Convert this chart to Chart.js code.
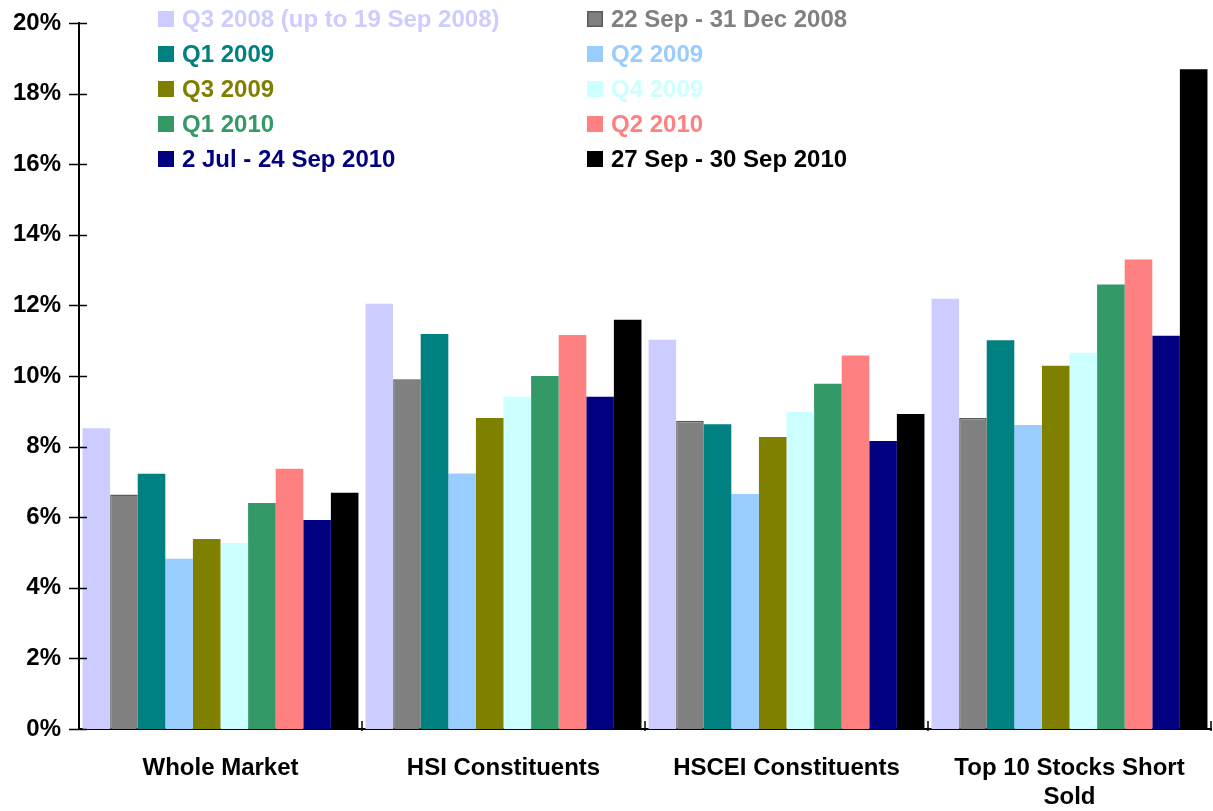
<!DOCTYPE html>
<html>
<head>
<meta charset="utf-8">
<script src="https://cdn.jsdelivr.net/npm/chart.js@4/dist/chart.umd.min.js"></script>
<style>
  html, body { margin: 0; padding: 0; background: #fff; }
  #wrap { position: relative; width: 1213px; height: 811px; }
</style>
</head>
<body>
<div id="wrap"><canvas id="chart"></canvas></div>
<script>
// categories along the x axis
const categories = ["Whole Market", "HSI Constituents", "HSCEI Constituents", ["Top 10 Stocks Short", "Sold"]];

// series names
const seriesNames = [
  "Q3 2008 (up to 19 Sep 2008)", "22 Sep - 31 Dec 2008",
  "Q1 2009", "Q2 2009",
  "Q3 2009", "Q4 2009",
  "Q1 2010", "Q2 2010",
  "2 Jul - 24 Sep 2010", "27 Sep - 30 Sep 2010"
];

// values (%) per series, one per category
const q3_2008   = [8.52, 12.05, 11.03, 12.19];
const sep_dec08 = [6.64, 9.91, 8.73, 8.81];
const q1_2009   = [7.23, 11.19, 8.63, 11.01];
const q2_2009   = [4.82, 7.24, 6.66, 8.61];
const q3_2009   = [5.38, 8.81, 8.27, 10.29];
const q4_2009   = [5.27, 9.41, 8.99, 10.66];
const q1_2010   = [6.40, 10.00, 9.78, 12.59];
const q2_2010   = [7.37, 11.16, 10.58, 13.30];
const jul_sep10 = [5.92, 9.41, 8.16, 11.14];
const sep27_30  = [6.69, 11.59, 8.92, 18.69];

const seriesValues = [q3_2008, sep_dec08, q1_2009, q2_2009, q3_2009, q4_2009, q1_2010, q2_2010, jul_sep10, sep27_30];

const colors = ["#CCCCFF", "#808080", "#008080", "#99CCFF", "#808000", "#CCFFFF", "#339966", "#FF8080", "#000080", "#000000"];

// y axis ticks
const yMin = 0, yMax = 20, yStep = 2;

const FONT = "'Liberation Sans', Arial, sans-serif";

const datasets = seriesValues.map((vals, i) => ({
  label: seriesNames[i],
  data: vals,
  backgroundColor: colors[i],
  borderColor: i === 1 ? "#5a5a5a" : colors[i],
  borderWidth: i === 1 ? 1.5 : 0,
  categoryPercentage: 0.975,
  barPercentage: 1.0
}));

// legend drawn in two columns over the plot area
const legendPlugin = {
  id: "twoColLegend",
  afterDraw(chart) {
    const ctx = chart.ctx;
    ctx.save();
    ctx.font = "bold 24px " + FONT;
    ctx.textBaseline = "middle";
    ctx.textAlign = "left";
    chart.data.datasets.forEach((ds, i) => {
      const col = i % 2, row = Math.floor(i / 2);
      const sx = col === 0 ? 158 : 587;
      const cy = 19 + row * 35;
      ctx.fillStyle = ds.backgroundColor;
      ctx.fillRect(sx, cy - 8, 16, 16);
      if (i === 1) {
        ctx.strokeStyle = "#5a5a5a";
        ctx.lineWidth = 1.5;
        ctx.strokeRect(sx + 0.75, cy - 7.25, 14.5, 14.5);
      }
      ctx.fillStyle = ds.backgroundColor;
      ctx.fillText(ds.label, sx + 24, cy + 1);
    });
    ctx.restore();
  }
};

// tick marks crossing the axes
const axisTicks = {
  id: "axisTicks",
  afterDraw(chart) {
    const ctx = chart.ctx, a = chart.chartArea, y = chart.scales.y;
    ctx.save();
    ctx.strokeStyle = "#000";
    ctx.lineWidth = 1.5;
    ctx.beginPath();
    for (let v = yMin; v <= yMax; v += yStep) {
      const py = Math.round(y.getPixelForValue(v)) + 0.5;
      ctx.moveTo(a.left - 10, py);
      ctx.lineTo(a.left + 8, py);
    }
    const n = categories.length;
    for (let i = 1; i <= n; i++) {
      const px = a.left + i * (a.right - a.left) / n;
      ctx.moveTo(px, a.bottom - 8);
      ctx.lineTo(px, a.bottom + 2);
    }
    ctx.stroke();
    ctx.restore();
  }
};

new Chart(document.getElementById("chart").getContext("2d"), {
  type: "bar",
  data: { labels: categories, datasets: datasets },
  options: {
    responsive: true,
    maintainAspectRatio: false,
    animation: false,
    layout: { padding: { top: 23, right: 2, left: 0, bottom: 0 } },
    plugins: {
      legend: { display: false },
      tooltip: { enabled: false }
    },
    scales: {
      x: {
        grid: { display: false, drawTicks: false },
        border: { color: "#000", width: 2 },
        ticks: {
          color: "#000",
          padding: 25,
          maxRotation: 0,
          autoSkip: false,
          font: { family: FONT, weight: "bold", size: 24, lineHeight: 1.2 }
        },
        afterFit(s) { s.height = 82; }
      },
      y: {
        min: yMin,
        max: yMax,
        grid: { display: false, drawTicks: false },
        border: { color: "#000", width: 2 },
        ticks: {
          stepSize: yStep,
          color: "#000",
          padding: 18,
          font: { family: FONT, weight: "bold", size: 24 },
          callback: (v) => v + "%"
        },
        afterFit(s) { s.width = 79; s.paddingTop = 0; s.paddingBottom = 0; }
      }
    }
  },
  plugins: [legendPlugin, axisTicks]
});
</script>
</body>
</html>
